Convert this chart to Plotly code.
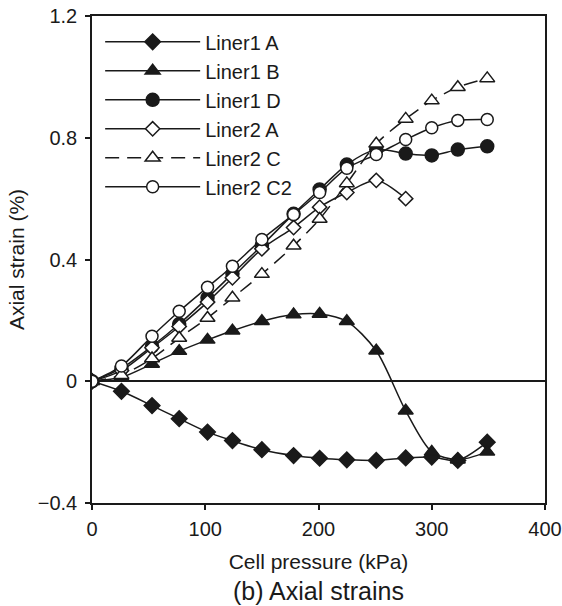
import plotly.graph_objects as go

# Cell pressure (kPa)
pressure = [0, 26, 53, 77, 102, 124, 150, 178, 201, 225, 251, 277, 300, 323, 349]
pressure_l2a = [0, 26, 53, 77, 102, 124, 150, 178, 201, 225, 251, 277]

# Axial strain (%)
liner1_a = [0, -0.033, -0.08, -0.123, -0.167, -0.195, -0.225, -0.244, -0.253, -0.258, -0.26, -0.252, -0.249, -0.26, -0.20]
liner1_b = [0, 0.013, 0.057, 0.099, 0.136, 0.166, 0.197, 0.219, 0.221, 0.197, 0.100, -0.097, -0.232, -0.258, -0.232]
liner1_d = [0, 0.042, 0.115, 0.188, 0.274, 0.353, 0.446, 0.550, 0.630, 0.712, 0.761, 0.748, 0.742, 0.761, 0.772]
liner2_a = [0, 0.035, 0.110, 0.180, 0.260, 0.340, 0.435, 0.505, 0.572, 0.620, 0.660, 0.600]
liner2_c = [0, 0.020, 0.075, 0.142, 0.208, 0.274, 0.352, 0.445, 0.533, 0.650, 0.780, 0.862, 0.922, 0.966, 0.995]
liner2_c2 = [0, 0.050, 0.148, 0.230, 0.309, 0.378, 0.466, 0.548, 0.620, 0.700, 0.745, 0.794, 0.833, 0.857, 0.860]

x_ticks = [0, 100, 200, 300, 400]
y_ticks = [-0.4, 0, 0.4, 0.8, 1.2]
y_tick_text = ["\u22120.4", "0", "0.4", "0.8", "1.2"]

FONT = "Liberation Sans, Arial, sans-serif"
BLACK = "#1a1a1a"

# name, x, y, symbol, size, fill, dash
series = [
    ("Liner1 A", pressure, liner1_a, "diamond", 12, BLACK, "solid"),
    ("Liner1 B", pressure, liner1_b, "triangle-up", 13, BLACK, "solid"),
    ("Liner1 D", pressure, liner1_d, "circle", 13, BLACK, "solid"),
    ("Liner2 A", pressure_l2a, liner2_a, "diamond", 11, "white", "solid"),
    ("Liner2 C", pressure, liner2_c, "triangle-up", 13, "white", "14px,8px"),
    ("Liner2 C2", pressure, liner2_c2, "circle", 12, "white", "solid"),
]

fig = go.Figure()
for name, xs, ys, sym, size, fill, dash in series:
    fig.add_trace(go.Scatter(
        x=xs, y=ys, name=name, mode="lines+markers",
        line=dict(color=BLACK, width=1.5, dash=dash, shape="spline", smoothing=0.8),
        marker=dict(symbol=sym, size=size, color=fill,
                    line=dict(color=BLACK, width=1.5)),
    ))

axis_common = dict(showgrid=False, tickcolor=BLACK, tickwidth=1.5, automargin=False)

fig.update_layout(
    width=562, height=606,
    margin=dict(l=92, r=17, t=16, b=103),
    paper_bgcolor="white", plot_bgcolor="white",
    font=dict(family=FONT, size=20, color=BLACK),
    showlegend=True,
    legend=dict(x=0.018, y=0.987, xanchor="left", yanchor="top",
                bgcolor="rgba(0,0,0,0)", font=dict(size=20, family=FONT),
                itemwidth=95, tracegroupgap=0),
    xaxis=dict(range=[0, 400], tickvals=x_ticks, ticks="outside", ticklen=5,
               showline=True, linecolor=BLACK, linewidth=1.6, mirror=True,
               zeroline=False, ticklabelstandoff=2, ticklabeloverflow="allow",
               title=dict(text="Cell pressure (kPa)", standoff=16, font=dict(size=21)),
               tickfont=dict(size=20), **axis_common),
    yaxis=dict(range=[-0.4, 1.2], tickvals=y_ticks, ticktext=y_tick_text,
               ticks="outside", ticklen=5,
               showline=True, linecolor=BLACK, linewidth=1.6, mirror=True,
               zeroline=True, zerolinecolor=BLACK, zerolinewidth=1.5,
               ticklabelstandoff=4, ticklabeloverflow="allow",
               title=dict(text="Axial strain (%)", standoff=7, font=dict(size=21)),
               tickfont=dict(size=20), **axis_common),
    xaxis2=dict(range=[0, 400], tickvals=x_ticks, ticks="inside", ticklen=5,
                overlaying="x", anchor="y", side="bottom", showticklabels=False,
                showline=False, zeroline=False, **axis_common),
    yaxis2=dict(range=[-0.4, 1.2], tickvals=y_ticks, ticks="inside", ticklen=5,
                overlaying="y", anchor="x", side="left", showticklabels=False,
                showline=False, zeroline=False, **axis_common),
)

fig.add_annotation(text="(b) Axial strains", xref="paper", yref="paper",
                   x=0.5, y=-0.181, xanchor="center", yanchor="middle",
                   showarrow=False, font=dict(size=25, family=FONT, color=BLACK))

# Remove the default page margin so the figure fills the window exactly.
fig.write_html("out.html",
               config={"displayModeBar": False},
               post_script="document.body.style.margin='0';document.body.style.overflow='hidden';")
